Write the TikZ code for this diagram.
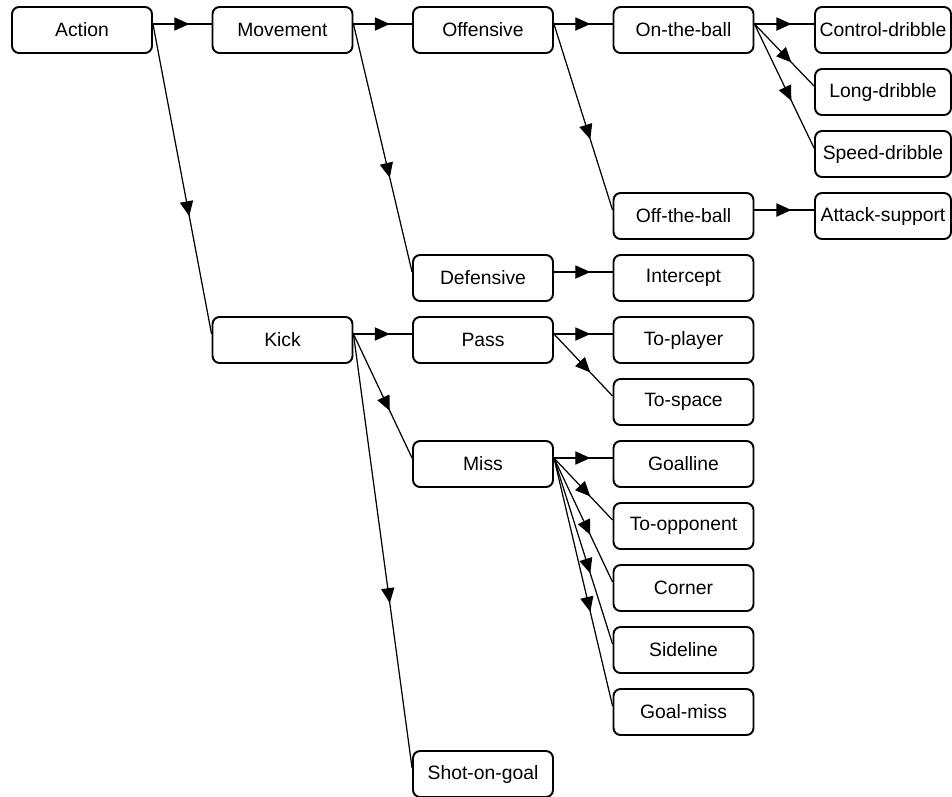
\documentclass[tikz,border=0pt]{standalone}
\usepackage{fontspec}
\setmainfont{Liberation Sans}
\usepackage{tikz}
\usetikzlibrary{arrows.meta,calc,decorations.markings}
\colorlet{boxline}{black}
\colorlet{linkline}{black}
\tikzset{
  act/.style={draw=boxline,line width=1.1pt,rounded corners=4pt,minimum width=2.8cm,minimum height=0.92cm,inner sep=0pt,font=\fontsize{11}{13}\selectfont},
  leaf/.style={act,minimum width=2.72cm},
  link/.style={draw=linkline,line width=0.7pt,postaction={decorate},
    decoration={markings,mark=at position 0.62 with {\arrow{Triangle[length=8.5pt,width=7.5pt]}}}}
}

\begin{document}
\begin{tikzpicture}[x=0.02cm,y=-0.02cm]
\useasboundingbox (0,0) rectangle (952,796);
% columns about 200px apart, rows every 62px
\foreach \nm/\cx/\ry/\txt in {action/0/0/Action, movement/1/0/Movement, offensive/2/0/Offensive,
  onball/3/0/On-the-ball, offball/3/3/Off-the-ball, defensive/2/4/Defensive, intercept/3/4/Intercept,
  kick/1/5/Kick, pass/2/5/Pass, toplayer/3/5/To-player, tospace/3/6/To-space, miss/2/7/Miss,
  goalline/3/7/Goalline, tooppo/3/8/To-opponent, corner/3/9/Corner, sideline/3/10/Sideline,
  goalmiss/3/11/Goal-miss, shot/2/12/Shot-on-goal}
  \node[act] (\nm) at ({82+200.5*\cx},{30+62*\ry}) {\txt};
% last column sits against the right border
\foreach \nm/\ry/\txt in {ctrldrib/0/Control-dribble, longdrib/1/Long-dribble,
  speeddrib/2/Speed-dribble, attsup/3/Attack-support}
  \node[leaf] (\nm) at (883,{30+62*\ry}) {\txt};
\foreach \a/\b in {action/movement, action/kick, movement/offensive, movement/defensive,
  offensive/onball, offensive/offball, onball/ctrldrib, onball/longdrib, onball/speeddrib,
  offball/attsup, defensive/intercept, kick/pass, kick/miss, kick/shot, pass/toplayer,
  pass/tospace, miss/goalline, miss/tooppo, miss/corner, miss/sideline, miss/goalmiss}
  \draw[link] ($(\a.east)+(0,-6)$) -- ($(\b.west)+(0,-6)$);
\end{tikzpicture}
\end{document}
